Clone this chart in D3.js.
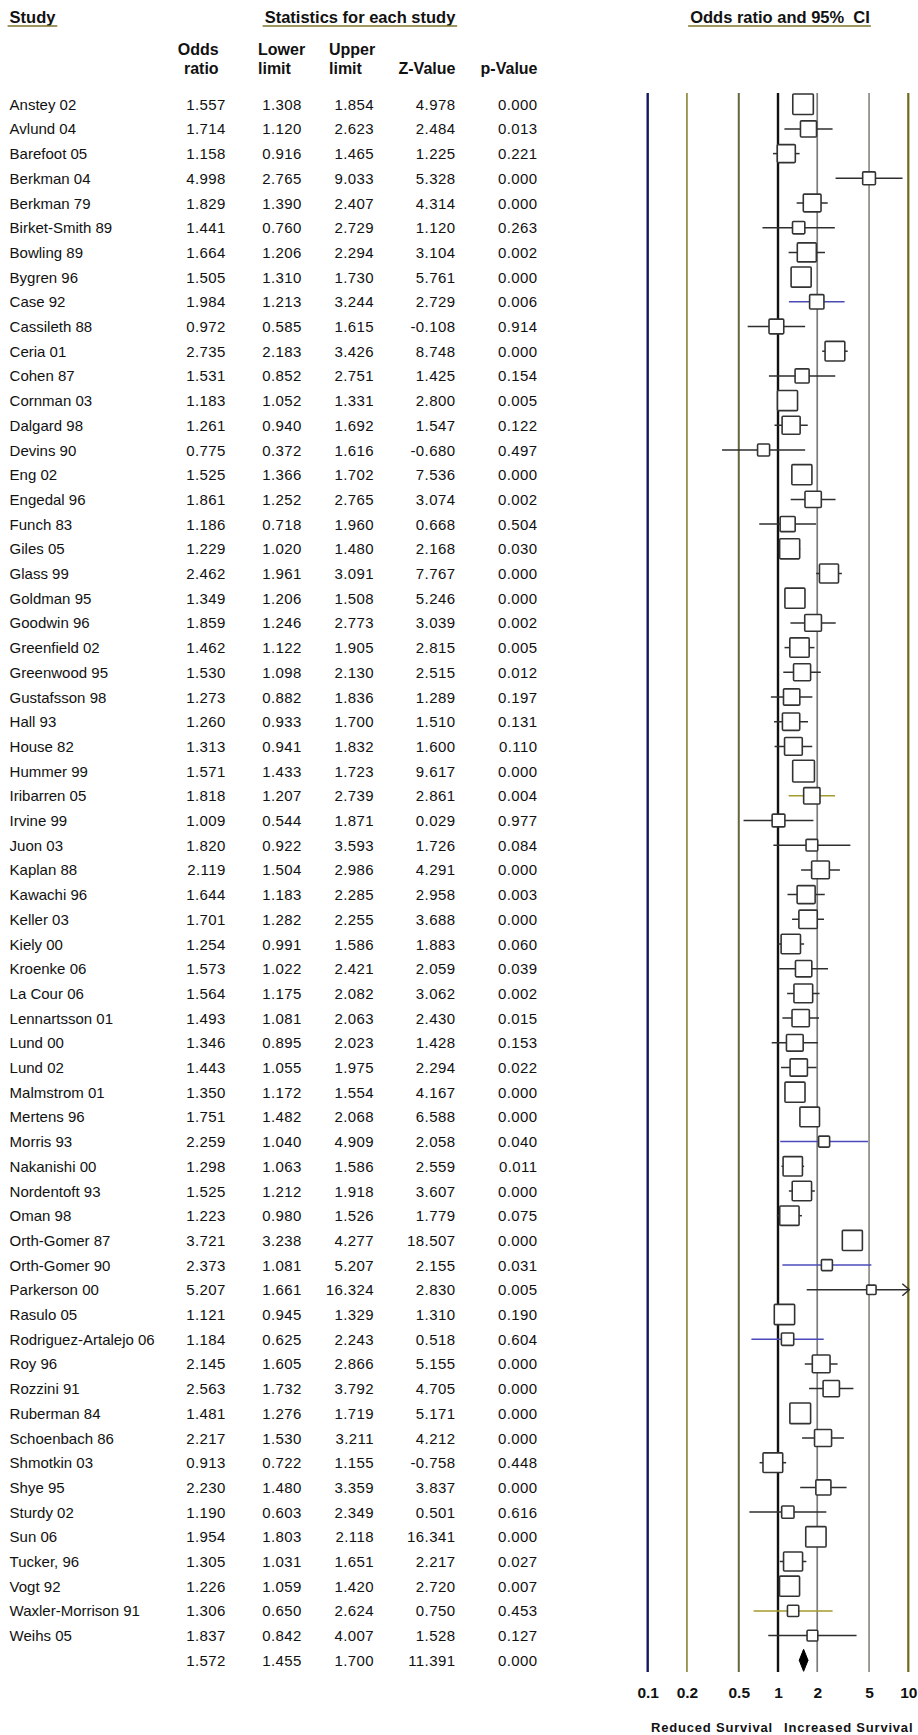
<!DOCTYPE html>
<html>
<head>
<meta charset="utf-8">
<script src="https://cdn.jsdelivr.net/npm/d3@7"></script>
<style>
  body { margin: 0; background: #fff; }
  text { font-family: "Liberation Sans", Arial, sans-serif; fill: #111; }
</style>
</head>
<body>
<svg id="chart" width="918" height="1735"></svg>
<script>
// ---- data ----
const studies = [
  "Anstey 02", "Avlund 04", "Barefoot 05", "Berkman 04", "Berkman 79", "Birket-Smith 89",
  "Bowling 89", "Bygren 96", "Case 92", "Cassileth 88", "Ceria 01", "Cohen 87",
  "Cornman 03", "Dalgard 98", "Devins 90", "Eng 02", "Engedal 96", "Funch 83",
  "Giles 05", "Glass 99", "Goldman 95", "Goodwin 96", "Greenfield 02", "Greenwood 95",
  "Gustafsson 98", "Hall 93", "House 82", "Hummer 99", "Iribarren 05", "Irvine 99",
  "Juon 03", "Kaplan 88", "Kawachi 96", "Keller 03", "Kiely 00", "Kroenke 06",
  "La Cour 06", "Lennartsson 01", "Lund 00", "Lund 02", "Malmstrom 01", "Mertens 96",
  "Morris 93", "Nakanishi 00", "Nordentoft 93", "Oman 98", "Orth-Gomer 87", "Orth-Gomer 90",
  "Parkerson 00", "Rasulo 05", "Rodriguez-Artalejo 06", "Roy 96", "Rozzini 91", "Ruberman 84",
  "Schoenbach 86", "Shmotkin 03", "Shye 95", "Sturdy 02", "Sun 06", "Tucker, 96",
  "Vogt 92", "Waxler-Morrison 91", "Weihs 05"
];
const oddsRatio = [
  1.557, 1.714, 1.158, 4.998, 1.829, 1.441, 1.664, 1.505, 1.984, 0.972, 2.735, 1.531,
  1.183, 1.261, 0.775, 1.525, 1.861, 1.186, 1.229, 2.462, 1.349, 1.859, 1.462, 1.530,
  1.273, 1.260, 1.313, 1.571, 1.818, 1.009, 1.820, 2.119, 1.644, 1.701, 1.254, 1.573,
  1.564, 1.493, 1.346, 1.443, 1.350, 1.751, 2.259, 1.298, 1.525, 1.223, 3.721, 2.373,
  5.207, 1.121, 1.184, 2.145, 2.563, 1.481, 2.217, 0.913, 2.230, 1.190, 1.954, 1.305,
  1.226, 1.306, 1.837
];
const lowerLimit = [
  1.308, 1.120, 0.916, 2.765, 1.390, 0.760, 1.206, 1.310, 1.213, 0.585, 2.183, 0.852,
  1.052, 0.940, 0.372, 1.366, 1.252, 0.718, 1.020, 1.961, 1.206, 1.246, 1.122, 1.098,
  0.882, 0.933, 0.941, 1.433, 1.207, 0.544, 0.922, 1.504, 1.183, 1.282, 0.991, 1.022,
  1.175, 1.081, 0.895, 1.055, 1.172, 1.482, 1.040, 1.063, 1.212, 0.980, 3.238, 1.081,
  1.661, 0.945, 0.625, 1.605, 1.732, 1.276, 1.530, 0.722, 1.480, 0.603, 1.803, 1.031,
  1.059, 0.650, 0.842
];
const upperLimit = [
  1.854, 2.623, 1.465, 9.033, 2.407, 2.729, 2.294, 1.730, 3.244, 1.615, 3.426, 2.751,
  1.331, 1.692, 1.616, 1.702, 2.765, 1.960, 1.480, 3.091, 1.508, 2.773, 1.905, 2.130,
  1.836, 1.700, 1.832, 1.723, 2.739, 1.871, 3.593, 2.986, 2.285, 2.255, 1.586, 2.421,
  2.082, 2.063, 2.023, 1.975, 1.554, 2.068, 4.909, 1.586, 1.918, 1.526, 4.277, 5.207,
  16.324, 1.329, 2.243, 2.866, 3.792, 1.719, 3.211, 1.155, 3.359, 2.349, 2.118, 1.651,
  1.420, 2.624, 4.007
];
const zValue = [
  4.978, 2.484, 1.225, 5.328, 4.314, 1.120, 3.104, 5.761, 2.729, -0.108, 8.748, 1.425,
  2.800, 1.547, -0.680, 7.536, 3.074, 0.668, 2.168, 7.767, 5.246, 3.039, 2.815, 2.515,
  1.289, 1.510, 1.600, 9.617, 2.861, 0.029, 1.726, 4.291, 2.958, 3.688, 1.883, 2.059,
  3.062, 2.430, 1.428, 2.294, 4.167, 6.588, 2.058, 2.559, 3.607, 1.779, 18.507, 2.155,
  2.830, 1.310, 0.518, 5.155, 4.705, 5.171, 4.212, -0.758, 3.837, 0.501, 16.341, 2.217,
  2.720, 0.750, 1.528
];
const pValue = [
  0.000, 0.013, 0.221, 0.000, 0.000, 0.263, 0.002, 0.000, 0.006, 0.914, 0.000, 0.154,
  0.005, 0.122, 0.497, 0.000, 0.002, 0.504, 0.030, 0.000, 0.000, 0.002, 0.005, 0.012,
  0.197, 0.131, 0.110, 0.000, 0.004, 0.977, 0.084, 0.000, 0.003, 0.000, 0.060, 0.039,
  0.002, 0.015, 0.153, 0.022, 0.000, 0.000, 0.040, 0.011, 0.000, 0.075, 0.000, 0.031,
  0.005, 0.190, 0.604, 0.000, 0.000, 0.000, 0.000, 0.448, 0.000, 0.616, 0.000, 0.027,
  0.007, 0.453, 0.127
];
// relative weight of each study (%), sets the area of its box
const relWeight = [
  2.31, 1.41, 1.78, 0.89, 1.72, 0.83, 1.98, 2.20, 1.12, 1.19, 2.13, 1.08,
  2.20, 1.78, 0.79, 2.20, 1.46, 1.24, 2.20, 1.98, 2.20, 1.53, 2.05, 1.59,
  1.46, 1.64, 1.72, 2.59, 1.46, 0.89, 0.75, 1.72, 1.78, 1.84, 2.05, 1.46,
  1.92, 1.64, 1.53, 1.64, 2.20, 2.10, 0.66, 2.05, 2.05, 2.05, 2.20, 0.66,
  0.48, 2.26, 0.83, 1.72, 1.46, 2.35, 1.59, 2.13, 1.24, 0.83, 2.26, 1.98,
  2.20, 0.70, 0.63
];
// pooled estimate
const summaryStats = [1.572, 1.455, 1.700, 11.391, 0.000];

const tickValues = [0.1, 0.2, 0.5, 1, 2, 5, 10];
const tickLabels = ["0.1", "0.2", "0.5", "1", "2", "5", "10"];
const directionLabels = ["Reduced Survival", "Increased Survival"];

// ---- styling ----
const refLineStyle = [
  { color: "#17175e", width: 2.4 },
  { color: "#8f8b3e", width: 1.7 },
  { color: "#66663c", width: 2.0 },
  { color: "#111111", width: 2.4 },
  { color: "#7c7c7c", width: 1.7 },
  { color: "#8d8d84", width: 1.7 },
  { color: "#6f6a1c", width: 2.2 }
];
const whiskerTint = {
  "Case 92": "#4a4ab4",
  "Morris 93": "#4b4bbb",
  "Orth-Gomer 90": "#4b4bbb",
  "Rodriguez-Artalejo 06": "#4b4bbb",
  "Iribarren 05": "#a39b2e",
  "Waxler-Morrison 91": "#a39b2e"
};
const underlineColor = "#7d7428";
const fmt = v => v.toFixed(3);

// ---- layout ----
const svg = d3.select("#chart");
const nRows = studies.length + 1;
const y = d3.scaleLinear().domain([0, nRows - 1]).range([104.2, 104.2 + (nRows - 1) * 24.7]);
const x = d3.scaleLog().domain([0.1, 10]).range([647.7, 908.3]);
const boxSize = d3.scaleSqrt().domain([0, 2.6]).range([0, 21.8]);
const plotTop = 93, plotBottom = 1672;

const cols = [
  { values: oddsRatio, anchorX: 225.7 },
  { values: lowerLimit, anchorX: 301.8 },
  { values: upperLimit, anchorX: 374 },
  { values: zValue, anchorX: 455.4 },
  { values: pValue, anchorX: 537.5 }
];

// ---- headers ----
function header(label, cx, anchor) {
  const t = svg.append("text")
    .attr("x", cx).attr("y", 23)
    .attr("text-anchor", anchor)
    .style("font-weight", "bold").style("font-size", "16.5px")
    .style("white-space", "pre")
    .text(label);
  const bb = t.node().getBBox();
  svg.append("line")
    .attr("x1", bb.x - 2).attr("x2", bb.x + bb.width + 1)
    .attr("y1", 26).attr("y2", 26)
    .attr("stroke", underlineColor).attr("stroke-width", 1.6);
}
header("Study", 9.6, "start");
header("Statistics for each study", 360, "middle");
header("Odds ratio and 95%  CI", 780, "middle");

const subHeads = [
  { lines: ["Odds", "ratio"], x: 218.6, anchor: "end" },
  { lines: ["Lower", "limit"], x: 258, anchor: "start" },
  { lines: ["Upper", "limit"], x: 329, anchor: "start" },
  { lines: ["", "Z-Value"], x: 455.4, anchor: "end" },
  { lines: ["", "p-Value"], x: 537.5, anchor: "end" }
];
subHeads.forEach(h => {
  h.lines.forEach((ln, k) => {
    if (!ln) return;
    svg.append("text")
      .attr("x", h.x).attr("y", 55 + k * 18.5)
      .attr("text-anchor", h.anchor)
      .style("font-weight", "bold").style("font-size", "16px")
      .text(ln);
  });
});

// ---- table body ----
const table = svg.append("g").style("font-size", "15px");
table.selectAll("text.name")
  .data(studies)
  .join("text")
  .attr("class", "name")
  .attr("x", 9.6)
  .attr("y", (d, i) => y(i) + 5.5)
  .text(d => d);

cols.forEach((c, ci) => {
  const vals = c.values.concat([summaryStats[ci]]);
  table.selectAll("text.c" + ci)
    .data(vals)
    .join("text")
    .attr("class", "c" + ci)
    .attr("x", c.anchorX)
    .attr("y", (d, i) => y(i) + 5.5)
    .attr("text-anchor", "end")
    .style("letter-spacing", "0.4px")
    .text(d => fmt(d));
});

// ---- reference lines ----
svg.append("g").selectAll("line")
  .data(tickValues)
  .join("line")
  .attr("x1", d => x(d)).attr("x2", d => x(d))
  .attr("y1", plotTop).attr("y2", plotBottom)
  .attr("stroke", (d, i) => refLineStyle[i].color)
  .attr("stroke-width", (d, i) => refLineStyle[i].width);

// ---- study markers ----
const rows = studies.map((s, i) => ({
  name: s, or: oddsRatio[i], lo: lowerLimit[i], hi: upperLimit[i], w: relWeight[i], i
}));
const [xMin, xMax] = x.domain();
const marks = svg.append("g");
const clampX = v => x(Math.max(xMin, Math.min(xMax, v)));

marks.selectAll("line.ci")
  .data(rows)
  .join("line")
  .attr("class", "ci")
  .attr("x1", d => clampX(d.lo)).attr("x2", d => clampX(d.hi))
  .attr("y1", d => y(d.i)).attr("y2", d => y(d.i))
  .attr("stroke", d => whiskerTint[d.name] || "#2e2e2e")
  .attr("stroke-width", 1.5);

// arrowheads where the interval runs past the axis
marks.selectAll("path.arrow")
  .data(rows.filter(d => d.hi > xMax))
  .join("path")
  .attr("class", "arrow")
  .attr("d", d => {
    const ex = x(xMax), ey = y(d.i);
    return `M${ex - 6},${ey - 6}L${ex + 1},${ey}L${ex - 6},${ey + 6}`;
  })
  .attr("fill", "none").attr("stroke", "#2e2e2e").attr("stroke-width", 1.5);

marks.selectAll("rect.box")
  .data(rows)
  .join("rect")
  .attr("class", "box")
  .attr("x", d => x(d.or) - boxSize(d.w) / 2)
  .attr("y", d => y(d.i) - boxSize(d.w) / 2)
  .attr("width", d => boxSize(d.w))
  .attr("height", d => boxSize(d.w))
  .attr("rx", 1)
  .attr("fill", "#fff")
  .attr("stroke", "#333")
  .attr("stroke-width", 1.6);

// pooled diamond
const sy = y(studies.length);
const [sOr, sLo, sHi] = summaryStats;
svg.append("path")
  .attr("d", `M${x(sLo)},${sy}L${x(sOr)},${sy - 11}L${x(sHi)},${sy}L${x(sOr)},${sy + 11}Z`)
  .attr("fill", "#000").attr("stroke", "#000").attr("stroke-width", 1);

// ---- axis labels ----
const axis = d3.axisBottom(x)
  .tickValues(tickValues)
  .tickFormat((d, i) => tickLabels[i])
  .tickSize(0).tickPadding(3);
const ax = svg.append("g").attr("transform", `translate(0,${1684})`).call(axis);
ax.select(".domain").remove();
ax.selectAll("text")
  .style("font-family", '"Liberation Sans", Arial, sans-serif')
  .style("font-weight", "bold").style("font-size", "15.5px")
  .attr("fill", "#111");

svg.append("text")
  .attr("x", x(1) - 5).attr("y", 1732)
  .attr("text-anchor", "end")
  .style("font-weight", "bold").style("font-size", "13px").style("letter-spacing", "0.8px")
  .text(directionLabels[0]);
svg.append("text")
  .attr("x", x(1) + 6).attr("y", 1732)
  .attr("text-anchor", "start")
  .style("font-weight", "bold").style("font-size", "13px").style("letter-spacing", "0.8px")
  .text(directionLabels[1]);
</script>
</body>
</html>
